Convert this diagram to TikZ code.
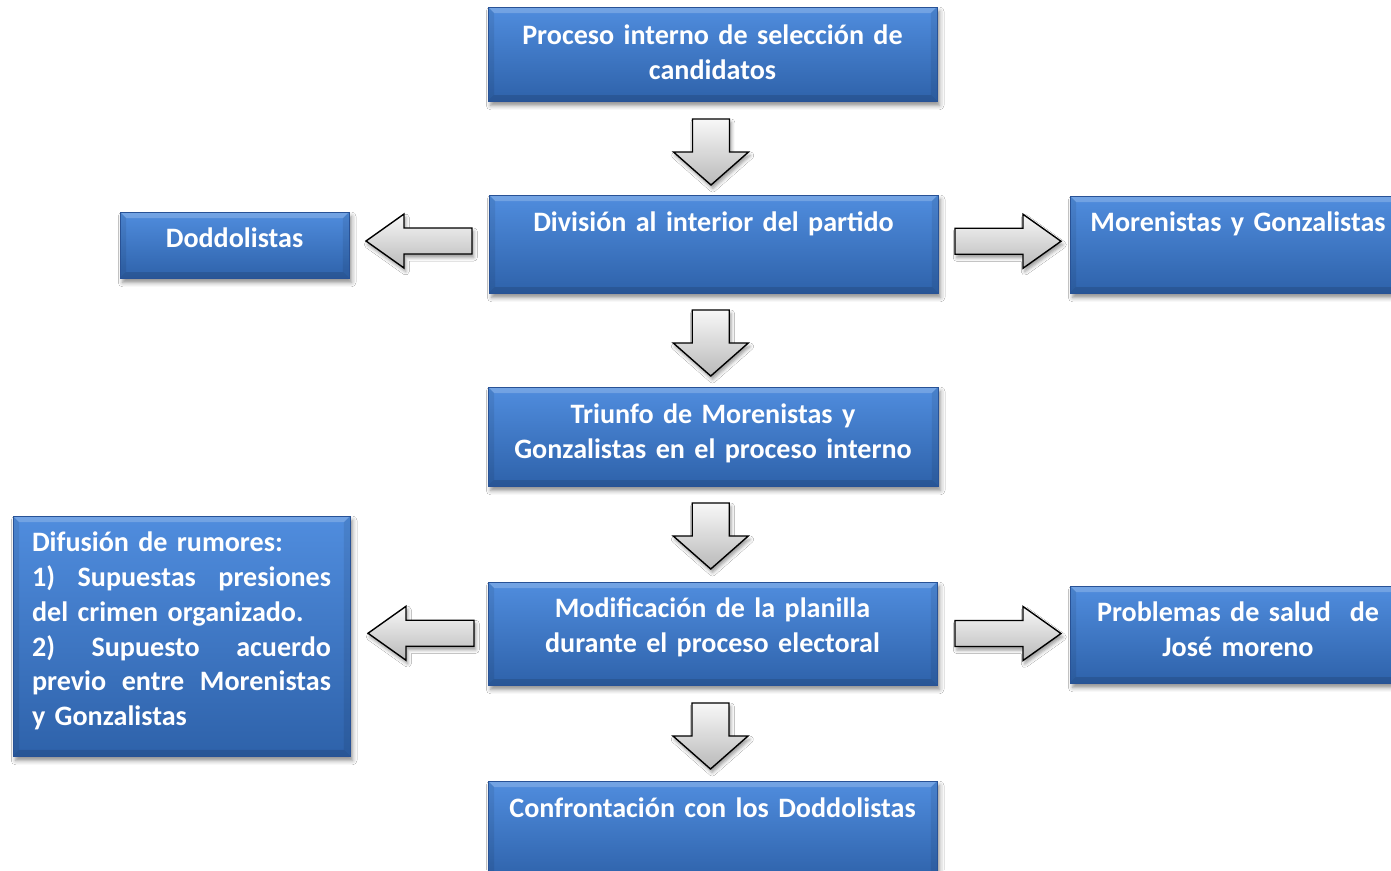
\documentclass[tikz,border=0pt]{standalone}
\usepackage{fontspec}
\setmainfont{Carlito}[WordSpace=0.85]
\usetikzlibrary{calc,shadows.blur}
\definecolor{boxtop}{RGB}{80,141,222}
\definecolor{boxbot}{RGB}{46,98,170}
\definecolor{boxedge}{RGB}{40,82,150}
\definecolor{arrtop}{RGB}{248,248,248}
\definecolor{arrbot}{RGB}{185,185,185}
\tikzset{
  box/.style={rectangle, inner sep=0pt, top color=boxtop, bottom color=boxbot,
    draw=boxedge, line width=0.5pt,
    blur shadow={shadow xshift=1.5pt, shadow yshift=-2.5pt, shadow blur radius=2.5pt, shadow opacity=45},
    text=white, font=\bfseries\fontsize{16pt}{19.84pt}\selectfont, align=center,
    path picture={
      \fill[white,opacity=0.20] (path picture bounding box.north west) -- (path picture bounding box.north east)
        -- ([shift={(-0.12cm,-0.12cm)}]path picture bounding box.north east) -- ([shift={(0.12cm,-0.12cm)}]path picture bounding box.north west) -- cycle;
      \fill[black,opacity=0.12] (path picture bounding box.south west) -- (path picture bounding box.south east)
        -- ([shift={(-0.12cm,0.12cm)}]path picture bounding box.south east) -- ([shift={(0.12cm,0.12cm)}]path picture bounding box.south west) -- cycle;
      \fill[black,opacity=0.08] (path picture bounding box.south west) -- (path picture bounding box.north west)
        -- ([shift={(0.12cm,-0.12cm)}]path picture bounding box.north west) -- ([shift={(0.12cm,0.12cm)}]path picture bounding box.south west) -- cycle;
      \fill[black,opacity=0.08] (path picture bounding box.south east) -- (path picture bounding box.north east)
        -- ([shift={(-0.12cm,-0.12cm)}]path picture bounding box.north east) -- ([shift={(-0.12cm,0.12cm)}]path picture bounding box.south east) -- cycle;
    }},
  arr/.style={draw=black, line width=0.8pt, top color=arrtop, bottom color=arrbot, line join=miter,
    blur shadow={shadow xshift=1pt, shadow yshift=-2pt, shadow blur radius=2pt, shadow opacity=40}},
  downarr/.pic={\path[arr] (-18.5,-33) -- (18.5,-33) -- (18.5,0) -- (37.5,0) -- (0,33) -- (-37.5,0) -- (-18.5,0) -- cycle;},
  rightarr/.pic={\path[arr] (-53,-13) -- (15,-13) -- (15,-27) -- (53,0) -- (15,27) -- (15,13) -- (-53,13) -- cycle;},
  leftarr/.pic={\path[arr] (53,-13) -- (-15,-13) -- (-15,-27) -- (-53,0) -- (-15,27) -- (-15,13) -- (53,13) -- cycle;}
}
\begin{document}
\begin{tikzpicture}[x=0.02cm, y=-0.02cm]
\useasboundingbox (0,0) rectangle (1391,870);
\fill[white] (0,0) rectangle (1391,870);
\clip (0,0) rectangle (1391,870);

\node[box, minimum width=8.98cm, minimum height=1.88cm, text width=8.6cm, text height=0.75cm, text depth=1.13cm]
  (b1) at (712.5,54) {Proceso interno de selección de\\candidatos};
\node[box, minimum width=8.98cm, minimum height=1.96cm, text width=8.6cm, text height=0.73cm, text depth=1.23cm]
  (b2) at (713.5,244) {División al interior del partido};
\node[box, minimum width=4.58cm, minimum height=1.32cm, text width=4.3cm, text height=0.71cm, text depth=0.61cm]
  (dodd) at (234.5,245) {Doddolistas};
\node[box, minimum width=6.72cm, minimum height=1.94cm, text width=6.5cm, text height=0.71cm, text depth=1.23cm]
  (more) at (1238,244.5) {Morenistas y Gonzalistas};
\node[box, minimum width=9cm, minimum height=1.98cm, text width=8.6cm, text height=0.73cm, text depth=1.25cm]
  (b3) at (713,436.5) {Triunfo de Morenistas y\\Gonzalistas en el proceso interno};
\node[box, minimum width=8.98cm, minimum height=2.06cm, text width=8.6cm, text height=0.71cm, text depth=1.35cm]
  (b4) at (712.5,633.5) {Modificación de la planilla\\durante el proceso electoral};
\node[box, minimum width=6.74cm, minimum height=4.8cm, text width=5.98cm, align=left, text height=0.71cm, text depth=4.09cm]
  (dif) at (181.5,636) {Difusión de rumores:\\1)\hfill Supuestas\hfill presiones\\del crimen organizado.\\2)\hfill Supuesto\hfill acuerdo\\previo\hfill entre\hfill Morenistas\\y Gonzalistas};
\node[box, minimum width=6.72cm, minimum height=1.94cm, text width=6.5cm, text height=0.71cm, text depth=1.23cm]
  (prob) at (1238,634.5) {Problemas de salud~ de\\José moreno};
\node[box, minimum width=8.98cm, minimum height=1.98cm, text width=8.6cm, text height=0.73cm, text depth=1.25cm]
  (b5) at (712.5,830.5) {Confrontación con los Doddolistas};

\pic at ($(b1.south)!.5!(b2.north)+(-2,4)$) {downarr};
\pic at ($(b2.south)!.5!(b3.north)+(-2.5,3)$) {downarr};
\pic at ($(b3.south)!.5!(b4.north)+(-2,2)$) {downarr};
\pic at ($(b4.south)!.5!(b5.north)+(-2,3)$) {downarr};
\pic at ($(dodd.east)!.5!(b2.west)+(0,-3.5)$) {leftarr};
\pic at ($(b2.east)!.5!(more.west)+(4,-3)$) {rightarr};
\pic at ($(dif.east)!.5!(b4.west)+(2,-1.5)$) {leftarr};
\pic at ($(b4.east)!.5!(prob.west)+(4.5,-0.5)$) {rightarr};
\end{tikzpicture}
\end{document}
